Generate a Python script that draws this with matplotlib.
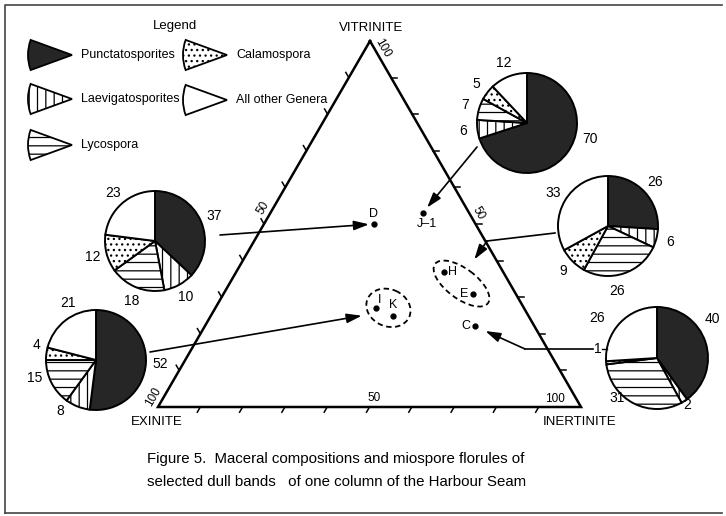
import numpy as np
import matplotlib
matplotlib.use('Agg')
import matplotlib.pyplot as plt
from matplotlib.patches import Wedge, Ellipse

plt.rcParams['font.family'] = ['Liberation Sans', 'DejaVu Sans']
plt.rcParams['hatch.linewidth'] = 0.9

W, H = 726, 516

# maceral composition (%) of the selected dull bands
samples = ['D', 'J-1', 'H', 'E', 'I', 'K', 'C']
vitrinite = [50, 53, 37, 31, 27, 25, 22]
exinite = [24, 11, 14, 10, 35, 32, 14]
inertinite = [26, 36, 49, 59, 38, 43, 64]

# miospore florules (%)
genera = ['Punctatosporites', 'Laevigatosporites', 'Lycospora', 'Calamospora', 'All other Genera']
florule_J1 = [70, 6, 7, 5, 12]
florule_HE = [26, 6, 26, 9, 33]
florule_C = [40, 2, 31, 1, 26]
florule_D = [37, 10, 18, 12, 23]
florule_IK = [52, 8, 15, 4, 21]

caption = ['Figure 5.  Maceral compositions and miospore florules of',
           'selected dull bands   of one column of the Harbour Seam']

# styles
face = ['#262626', 'white', 'white', 'white', 'white']
hatch = ['', '||', '--', '...', '']

# triangle corners in pixel space (y down)
V_PT = np.array([370.0, 41.0])
E_PT = np.array([158.0, 407.0])
I_PT = np.array([581.0, 407.0])


def tern(v, e, i):
    s = v + e + i
    return (v * V_PT + e * E_PT + i * I_PT) / s


def unit(a):
    return a / np.hypot(*a)


fig = plt.figure(figsize=(7.26, 5.16), dpi=100)
ax = fig.add_axes([0, 0, 1, 1])

# frame of the figure
ax.plot([5, 5, 722], [513, 5, 5], color='#444444', lw=1.2)
ax.plot([5, 722], [513, 513], color='#444444', lw=1.2)

# ternary triangle
tri = np.array([V_PT, E_PT, I_PT, V_PT])
ax.plot(tri[:, 0], tri[:, 1], color='black', lw=1.8, solid_joinstyle='miter')

edges = [
    (E_PT, I_PT, unit(E_PT - V_PT)),   # bottom  (inertinite)
    (I_PT, V_PT, unit(I_PT - E_PT)),   # right   (vitrinite)
    (V_PT, E_PT, unit(V_PT - I_PT)),   # left    (exinite)
]
for a, b, d in edges:
    for k in range(1, 10):
        p = a + k / 10 * (b - a)
        q = p + 6 * d
        ax.plot([p[0], q[0]], [p[1], q[1]], color='black', lw=1.1)

# edge labels: (edge, fraction, offset, text, rotation)
edge_labels = [
    (0, 0.5, (5, -9), '50', 0), (0, 1.0, (-26, -8), '100', 0),
    (1, 0.5, (3, -11), '50', -60), (1, 1.0, (13, 7), '100', -60),
    (2, 0.5, (-1, -16), '50', 60), (2, 1.0, (-5, -10), '100', 60),
]
for ei, f, off, txt, rot in edge_labels:
    a, b, _ = edges[ei]
    p = a + f * (b - a)
    ax.text(p[0] + off[0], p[1] + off[1], txt, fontsize=8.5, rotation=rot,
            ha='center', va='center', rotation_mode='anchor')

ax.text(V_PT[0] + 1, V_PT[1] - 13, 'VITRINITE', fontsize=9.5, ha='center', va='center')
ax.text(E_PT[0] - 1, E_PT[1] + 15, 'EXINITE', fontsize=9.5, ha='center', va='center')
ax.text(I_PT[0] - 1, I_PT[1] + 15, 'INERTINITE', fontsize=9.5, ha='center', va='center')

# sample points
pts = {}
label_off = {'D': (0, -10), 'J-1': (4, 11), 'H': (9, 0), 'E': (-9, 0),
             'I': (4, -8), 'K': (0, -10), 'C': (-9, 0)}
for s, v, e, i in zip(samples, vitrinite, exinite, inertinite):
    p = tern(v, e, i)
    pts[s] = p
    ax.plot(p[0], p[1], 'o', color='black', ms=3.5)
    dx, dy = label_off[s]
    ax.text(p[0] + dx, p[1] + dy, s.replace('-', '–'), fontsize=9, ha='center', va='center')

# dashed outlines around grouped samples
groups = [(['H', 'E'], 29, 30, (3, 1)), (['I', 'K'], 27, 37, (4, -4))]
for members, pad, minor, shift in groups:
    a, b = pts[members[0]], pts[members[1]]
    c = (a + b) / 2 + np.array(shift)
    ang = np.degrees(np.arctan2(b[1] - a[1], b[0] - a[0]))
    ax.add_patch(Ellipse(c, np.hypot(*(b - a)) + pad, minor, angle=ang, fill=False,
                         ls=(0, (3, 2)), lw=1.3, color='black'))

# pies: values, centre, radius, arrow path, targets, arrow shrink (px), label overrides
pie_sets = [
    (florule_J1, (527, 123), 50, [(477, 147)], ['J-1'], 7, {0: (104, 65)}),
    (florule_HE, (608, 226), 50, [(555, 233), (487, 241)], ['H', 'E'], 28, {2: (172, 66)}),
    (florule_C, (657, 358), 51, [(593, 349), (525, 349)], ['C'], 11,
     {0: (55, 68), 1: (147, 56), 2: (225, 57), 3: (279, 60), 4: (304, 72)}),
    (florule_D, (155, 241), 50, [(220, 235)], ['D'], 5, {}),
    (florule_IK, (96, 360), 50, [(150, 352)], ['I', 'K'], 23,
     {1: (215, 62), 2: (254, 64), 3: (284, 61), 4: (334, 63)}),
]

for vals, centre, r, path, targets, shrink, over in pie_sets:
    wedges, _ = ax.pie(vals, colors=face, center=centre, radius=r, startangle=-90,
                       counterclock=True, frame=True,
                       wedgeprops=dict(edgecolor='black', linewidth=1.4))
    for w, h in zip(wedges, hatch):
        w.set_hatch(h)
    cum = np.cumsum([0] + list(vals)) / sum(vals) * 360
    for k, v in enumerate(vals):
        a, d = over.get(k, ((cum[k] + cum[k + 1]) / 2, r + 14))
        ar = np.radians(a)
        ax.text(centre[0] + d * np.sin(ar), centre[1] - d * np.cos(ar), str(v),
                fontsize=10, ha='center', va='center')
    # arrow to the sample(s)
    tgt = np.mean([pts[t] for t in targets], axis=0)
    if len(path) > 1:
        xs = [p[0] for p in path]
        ys = [p[1] for p in path]
        ax.plot(xs, ys, color='black', lw=1.2)
    ax.annotate('', xy=tgt, xytext=path[-1],
                arrowprops=dict(arrowstyle='-|>,head_length=0.7,head_width=0.22',
                                shrinkA=0, shrinkB=shrink * 0.72, lw=1.2,
                                color='black', mutation_scale=13))

# short leader for the tiny Calamospora slice of pie C
ax.plot([602, 607], [349, 349], color='black', lw=1.0)

# legend
ax.text(175, 26, 'Legend', fontsize=9.5, ha='center', va='center')
leg_pos = [(72, 55), (72, 99), (72, 145), (227, 55), (227, 100)]
for (x, y), g, fc, h in zip(leg_pos, genera, face, hatch):
    ax.add_patch(Wedge((x, y), 44, 160, 200, facecolor=fc, edgecolor='black',
                       hatch=h, lw=1.3))
    ax.text(x + 9, y, g, fontsize=9, ha='left', va='center')

# caption
ax.text(147, 463, caption[0], fontsize=10.8, ha='left', va='baseline')
ax.text(147, 486, caption[1], fontsize=10.8, ha='left', va='baseline')

ax.set_xlim(0, W)
ax.set_ylim(H, 0)
ax.set_aspect('equal')
ax.axis('off')

fig.savefig('out.png', dpi=100)
